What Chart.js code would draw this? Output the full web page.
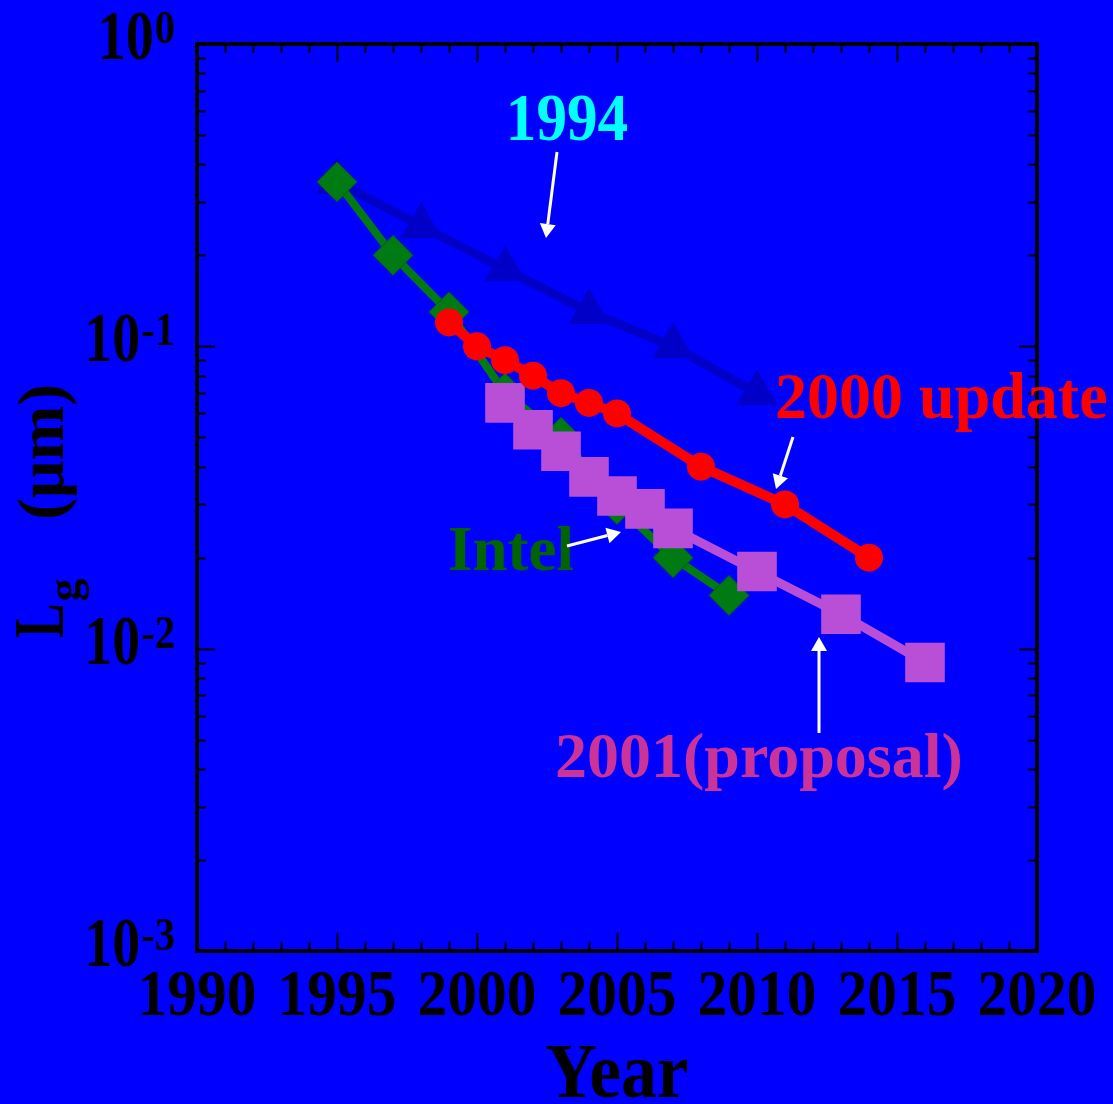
<!DOCTYPE html>
<html>
<head>
<meta charset="utf-8">
<script src="https://cdn.jsdelivr.net/npm/chart.js@4.4.1/dist/chart.umd.min.js"></script>
<style>
  html, body { margin: 0; padding: 0; background: #0000ff; }
  #wrap { width: 1113px; height: 1104px; }
</style>
</head>
<body>
<div id="wrap"><canvas id="c" width="1113" height="1104"></canvas></div>
<script>
// Gate length roadmaps (um) by year
const years1994 = [1995, 1998, 2001, 2004, 2007, 2010];
const lg1994    = [0.35, 0.25, 0.18, 0.13, 0.10, 0.07];

const yearsIntel = [1995, 1997, 1999, 2001, 2003, 2005, 2007, 2009];
const lgIntel    = [0.35, 0.20, 0.13, 0.07, 0.05, 0.03, 0.02, 0.015];

const years2000 = [1999, 2000, 2001, 2002, 2003, 2004, 2005, 2008, 2011, 2014];
const lg2000    = [0.12, 0.10, 0.09, 0.08, 0.07, 0.065, 0.06, 0.04, 0.03, 0.02];

const years2001 = [2001, 2002, 2003, 2004, 2005, 2006, 2007, 2010, 2013, 2016];
const lg2001    = [0.065, 0.053, 0.045, 0.037, 0.032, 0.029, 0.025, 0.018, 0.013, 0.009];

const xTickLabels = [1990, 1995, 2000, 2005, 2010, 2015, 2020];
const yDecades    = [-3, -2, -1, 0];

const FONT = '"Liberation Serif", "Times New Roman", serif';

function pts(xs, ys) { return xs.map((x, i) => ({ x: x, y: ys[i] })); }

// draw bold serif text with optional horizontal squeeze
function txt(ctx, s, x, y, size, sx, align, color) {
  ctx.save();
  ctx.font = 'bold ' + size + 'px ' + FONT;
  ctx.fillStyle = color;
  ctx.textBaseline = 'alphabetic';
  ctx.textAlign = 'left';
  const w = ctx.measureText(s).width * sx;
  const x0 = align === 'center' ? x - w / 2 : align === 'right' ? x - w : x;
  ctx.translate(x0, y);
  ctx.scale(sx, 1);
  ctx.fillText(s, 0, 0);
  ctx.restore();
  return w;
}
function textWidth(ctx, s, size, sx) {
  ctx.save();
  ctx.font = 'bold ' + size + 'px ' + FONT;
  const w = ctx.measureText(s).width * sx;
  ctx.restore();
  return w;
}

function arrow(ctx, x1, y1, x2, y2) {
  const ang = Math.atan2(y2 - y1, x2 - x1);
  const hl = 14, hw = 8;
  const bx = x2 - Math.cos(ang) * hl, by = y2 - Math.sin(ang) * hl;
  ctx.save();
  ctx.strokeStyle = '#ffffff';
  ctx.fillStyle = '#ffffff';
  ctx.lineWidth = 3;
  ctx.beginPath();
  ctx.moveTo(x1, y1);
  ctx.lineTo(bx, by);
  ctx.stroke();
  ctx.beginPath();
  ctx.moveTo(x2, y2);
  ctx.lineTo(bx + Math.sin(ang) * hw, by - Math.cos(ang) * hw);
  ctx.lineTo(bx - Math.sin(ang) * hw, by + Math.cos(ang) * hw);
  ctx.closePath();
  ctx.fill();
  ctx.restore();
}

const background = {
  id: 'background',
  beforeDraw(chart) {
    const ctx = chart.ctx;
    ctx.save();
    ctx.fillStyle = '#0000ff';
    ctx.fillRect(0, 0, chart.width, chart.height);
    ctx.restore();
  }
};

const frameAndLabels = {
  id: 'frameAndLabels',
  afterDraw(chart) {
    const ctx = chart.ctx;
    const a = chart.chartArea;
    const xs = chart.scales.x, ys = chart.scales.y;

    ctx.save();
    ctx.strokeStyle = '#000000';

    // inward ticks on all four sides
    ctx.lineWidth = 2;
    ctx.beginPath();
    for (let v = xs.min; v <= xs.max; v++) {
      const px = Math.round(xs.getPixelForValue(v)) + 0.5;
      const len = v % 5 === 0 ? 18 : 9;
      ctx.moveTo(px, a.bottom); ctx.lineTo(px, a.bottom - len);
      ctx.moveTo(px, a.top); ctx.lineTo(px, a.top + len);
    }
    yDecades.forEach(e => {
      for (let k = 1; k <= 9; k++) {
        if (e === 0 && k > 1) break;
        const py = Math.round(ys.getPixelForValue(k * Math.pow(10, e))) + 0.5;
        const len = k === 1 ? 18 : 9;
        ctx.moveTo(a.left, py); ctx.lineTo(a.left + len, py);
        ctx.moveTo(a.right, py); ctx.lineTo(a.right - len, py);
      }
    });
    ctx.stroke();

    // frame
    ctx.lineWidth = 4;
    ctx.strokeRect(a.left, a.top, a.right - a.left, a.bottom - a.top);
    ctx.restore();

    // x tick labels
    xTickLabels.forEach(v => {
      txt(ctx, String(v), xs.getPixelForValue(v), a.bottom + 64, 66, 0.9, 'center', '#000');
    });

    // y tick labels: 10 with superscript exponent
    yDecades.forEach(e => {
      const py = ys.getPixelForValue(Math.pow(10, e));
      const sup = e === 0 ? '0' : '-' + (-e);
      const right = a.left - 22;
      const ws = textWidth(ctx, sup, 46, 0.88);
      txt(ctx, sup, right, py - 1, 46, 0.88, 'right', '#000');
      txt(ctx, '10', right - ws - 1, py + 15, 70, 0.8, 'right', '#000');
    });

    // axis titles
    txt(ctx, 'Year', (a.left + a.right) / 2, 1097, 78, 0.92, 'center', '#000');

    ctx.save();
    ctx.translate(63, 638);
    ctx.rotate(-Math.PI / 2);
    let cx = 0;
    cx += txt(ctx, 'L', cx, 0, 72, 0.72, 'left', '#000');
    txt(ctx, 'g', cx + 2, 16, 46, 1.0, 'left', '#000');
    txt(ctx, '(\u03bcm)', 118, 0, 66, 1.0, 'left', '#000');
    ctx.restore();

    // series annotations
    txt(ctx, '1994', 567, 140, 68, 0.9, 'center', '#00ffff');
    arrow(ctx, 557, 152, 546, 238);

    txt(ctx, '2000 update', 775, 418, 66, 0.97, 'left', '#ff0000');
    arrow(ctx, 793, 437, 776, 489);

    txt(ctx, 'Intel', 448, 570, 63, 1.0, 'left', '#006400');
    arrow(ctx, 567, 546, 621, 532);

    txt(ctx, '2001(proposal)', 555, 777, 64, 1.0, 'left', '#cc3399');
    arrow(ctx, 819, 733, 819, 637);
  }
};

new Chart(document.getElementById('c'), {
  type: 'line',
  data: {
    datasets: [
      {
        label: '2000 update',
        data: pts(years2000, lg2000),
        borderColor: '#ff0000', backgroundColor: '#ff0000',
        borderWidth: 10, pointStyle: 'circle', pointRadius: 14,
        pointBorderWidth: 0, order: 1
      },
      {
        label: '2001 (proposal)',
        data: pts(years2001, lg2001),
        borderColor: '#b94fd6', backgroundColor: '#b94fd6',
        borderWidth: 9, pointStyle: 'rect', pointRadius: 28,
        pointBorderWidth: 0, order: 2
      },
      {
        label: 'Intel',
        data: pts(yearsIntel, lgIntel),
        borderColor: '#007a12', backgroundColor: '#007a12',
        borderWidth: 8, pointStyle: 'rectRot', pointRadius: 20,
        pointBorderWidth: 1, pointBorderColor: '#005a10', order: 3
      },
      {
        label: '1994',
        data: pts(years1994, lg1994),
        borderColor: '#0000c8', backgroundColor: '#0000c8',
        borderWidth: 9, pointStyle: 'triangle', pointRadius: 24,
        pointBorderWidth: 0, order: 4
      }
    ]
  },
  options: {
    responsive: false,
    animation: false,
    devicePixelRatio: 1,
    layout: { padding: { left: 197, right: 76, top: 44, bottom: 153 } },
    elements: { line: { tension: 0 } },
    scales: {
      x: { type: 'linear', min: 1990, max: 2020, display: false },
      y: { type: 'logarithmic', min: 0.001, max: 1, display: false }
    },
    plugins: { legend: { display: false }, tooltip: { enabled: false } }
  },
  plugins: [background, frameAndLabels]
});
</script>
</body>
</html>
